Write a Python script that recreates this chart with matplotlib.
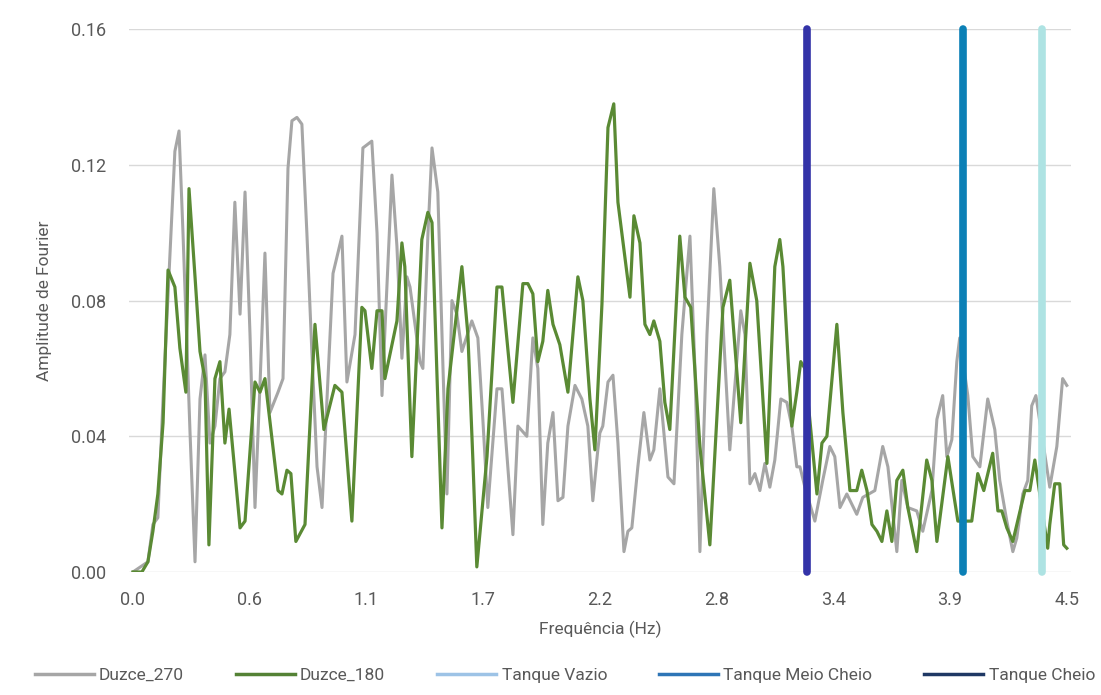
import matplotlib
matplotlib.use('Agg')
import matplotlib.pyplot as plt
from matplotlib.lines import Line2D

plt.rcParams['font.family'] = ['Roboto', 'DejaVu Sans']

# Duzce_180 (green)
f180 = [0.0, 0.043, 0.072, 0.096, 0.120, 0.145, 0.169, 0.202, 0.226, 0.255, 0.270, 0.299, 0.323, 0.347,
        0.366, 0.395, 0.419, 0.443, 0.463, 0.516, 0.540, 0.588, 0.612, 0.636, 0.699, 0.718, 0.742, 0.761,
        0.785, 0.829, 0.877, 0.920, 0.973, 1.007, 1.055, 1.103, 1.118, 1.151, 1.176, 1.200, 1.214, 1.272,
        1.296, 1.310, 1.344, 1.392, 1.421, 1.441, 1.489, 1.518, 1.585, 1.614, 1.638, 1.657, 1.706, 1.754,
        1.778, 1.831, 1.879, 1.903, 1.927, 1.951, 1.975, 1.999, 2.024, 2.057, 2.096, 2.144, 2.168, 2.202,
        2.226, 2.260, 2.289, 2.317, 2.337, 2.395, 2.414, 2.443, 2.467, 2.491, 2.510, 2.539, 2.563, 2.587,
        2.635, 2.660, 2.688, 2.732, 2.780, 2.843, 2.876, 2.929, 2.973, 3.006, 3.055, 3.093, 3.117, 3.132,
        3.175, 3.199, 3.218, 3.238, 3.296, 3.320, 3.344, 3.392, 3.421, 3.455, 3.488, 3.512, 3.537, 3.561,
        3.585, 3.609, 3.633, 3.657, 3.681, 3.710, 3.734, 3.777, 3.825, 3.850, 3.874, 3.927, 3.975, 4.042,
        4.071, 4.100, 4.143, 4.168, 4.187, 4.211, 4.240, 4.298, 4.322, 4.346, 4.408, 4.418, 4.442, 4.466,
        4.485, 4.500]
a180 = [0.0, 0.0, 0.003, 0.012, 0.023, 0.044, 0.089, 0.084, 0.066, 0.053, 0.113, 0.087, 0.065, 0.057,
        0.008, 0.057, 0.062, 0.038, 0.048, 0.013, 0.015, 0.056, 0.053, 0.057, 0.024, 0.023, 0.030, 0.029,
        0.009, 0.014, 0.073, 0.042, 0.055, 0.053, 0.015, 0.078, 0.077, 0.060, 0.077, 0.077, 0.057, 0.074,
        0.097, 0.090, 0.034, 0.098, 0.106, 0.103, 0.013, 0.054, 0.090, 0.070, 0.033, 0.0015, 0.034, 0.084,
        0.084, 0.050, 0.085, 0.085, 0.082, 0.062, 0.068, 0.083, 0.073, 0.067, 0.053, 0.087, 0.080, 0.051,
        0.036, 0.079, 0.131, 0.138, 0.109, 0.081, 0.105, 0.097, 0.073, 0.070, 0.074, 0.068, 0.050, 0.042,
        0.099, 0.081, 0.078, 0.037, 0.008, 0.078, 0.086, 0.044, 0.091, 0.080, 0.032, 0.090, 0.098, 0.090,
        0.043, 0.053, 0.062, 0.060, 0.023, 0.038, 0.040, 0.073, 0.047, 0.024, 0.024, 0.030, 0.024, 0.014,
        0.012, 0.009, 0.018, 0.009, 0.027, 0.030, 0.019, 0.006, 0.033, 0.027, 0.009, 0.034, 0.015, 0.015,
        0.029, 0.024, 0.035, 0.018, 0.018, 0.013, 0.009, 0.024, 0.024, 0.033, 0.007, 0.014, 0.026, 0.026,
        0.008, 0.007]

# Duzce_270 (gray)
f270 = [0.0, 0.072, 0.096, 0.120, 0.145, 0.202, 0.222, 0.241, 0.275, 0.299, 0.323, 0.347, 0.371, 0.395,
        0.419, 0.443, 0.467, 0.491, 0.516, 0.540, 0.564, 0.588, 0.612, 0.636, 0.660, 0.699, 0.723, 0.747,
        0.766, 0.790, 0.814, 0.838, 0.862, 0.887, 0.911, 0.935, 0.964, 1.007, 1.031, 1.070, 1.108, 1.151,
        1.176, 1.200, 1.248, 1.272, 1.296, 1.320, 1.335, 1.383, 1.397, 1.421, 1.441, 1.469, 1.494, 1.513,
        1.537, 1.561, 1.585, 1.633, 1.662, 1.686, 1.710, 1.754, 1.778, 1.831, 1.855, 1.898, 1.927, 1.951,
        1.975, 1.999, 2.024, 2.048, 2.072, 2.096, 2.130, 2.163, 2.192, 2.216, 2.240, 2.250, 2.264, 2.289,
        2.313, 2.337, 2.366, 2.385, 2.404, 2.433, 2.462, 2.491, 2.510, 2.539, 2.578, 2.607, 2.645, 2.684,
        2.708, 2.732, 2.766, 2.799, 2.828, 2.876, 2.929, 2.949, 2.973, 2.997, 3.021, 3.045, 3.069, 3.093,
        3.122, 3.151, 3.175, 3.199, 3.214, 3.238, 3.286, 3.324, 3.358, 3.382, 3.407, 3.440, 3.488, 3.517,
        3.575, 3.613, 3.638, 3.681, 3.705, 3.734, 3.777, 3.806, 3.850, 3.874, 3.902, 3.922, 3.946, 3.970,
        3.984, 4.023, 4.047, 4.081, 4.119, 4.153, 4.177, 4.211, 4.240, 4.259, 4.288, 4.312, 4.331, 4.351,
        4.418, 4.452, 4.480, 4.500]
a270 = [0.0, 0.003, 0.014, 0.016, 0.051, 0.124, 0.130, 0.100, 0.041, 0.003, 0.051, 0.064, 0.038, 0.043,
        0.057, 0.059, 0.070, 0.109, 0.076, 0.112, 0.070, 0.019, 0.055, 0.094, 0.047, 0.053, 0.057, 0.119,
        0.133, 0.134, 0.132, 0.100, 0.065, 0.031, 0.019, 0.051, 0.088, 0.099, 0.056, 0.070, 0.125, 0.127,
        0.100, 0.052, 0.117, 0.096, 0.063, 0.087, 0.084, 0.062, 0.060, 0.099, 0.125, 0.112, 0.060, 0.023,
        0.080, 0.076, 0.065, 0.074, 0.069, 0.045, 0.019, 0.054, 0.054, 0.011, 0.043, 0.040, 0.069, 0.060,
        0.014, 0.038, 0.047, 0.021, 0.022, 0.043, 0.055, 0.051, 0.043, 0.021, 0.036, 0.041, 0.043, 0.056,
        0.058, 0.038, 0.006, 0.012, 0.013, 0.031, 0.047, 0.033, 0.036, 0.054, 0.028, 0.026, 0.070, 0.099,
        0.060, 0.006, 0.070, 0.113, 0.090, 0.036, 0.077, 0.070, 0.026, 0.029, 0.024, 0.032, 0.025, 0.033,
        0.051, 0.050, 0.043, 0.031, 0.031, 0.025, 0.015, 0.027, 0.037, 0.034, 0.019, 0.023, 0.017, 0.022,
        0.024, 0.037, 0.031, 0.006, 0.027, 0.019, 0.018, 0.012, 0.024, 0.045, 0.052, 0.034, 0.039, 0.062,
        0.069, 0.052, 0.034, 0.031, 0.051, 0.042, 0.027, 0.015, 0.006, 0.010, 0.023, 0.027, 0.049, 0.052,
        0.025, 0.037, 0.057, 0.055]

# natural frequencies of the tank (vertical markers)
tank_names = ['Tanque Cheio', 'Tanque Meio Cheio', 'Tanque Vazio']
tank_freqs = [3.25, 4.0, 4.38]
tank_colors = ['#3333a8', '#0b80b6', '#aee3e3']

xtick_labels = ['0.0', '0.6', '1.1', '1.7', '2.2', '2.8', '3.4', '3.9', '4.5']
yticks = [0.0, 0.04, 0.08, 0.12, 0.16]

txt = '#595959'
fig = plt.figure(figsize=(11.01, 6.95), dpi=100)
ax = fig.add_axes([0.117, 0.177, 0.8557, 0.781])

ax.plot(f270, a270, color='#a6a6a6', lw=2.2, solid_joinstyle='round')
ax.plot(f180, a180, color='#5a8a34', lw=2.3, solid_joinstyle='round')
for f, c in zip(tank_freqs, tank_colors):
    ax.plot([f, f], [0, 0.16], color=c, lw=5.5, solid_capstyle='round', zorder=5, clip_on=False)

ax.set_xlim(-0.02, 4.52)
ax.set_ylim(0, 0.16)
ax.set_xticks([i * 4.5 / 8 for i in range(9)])
ax.set_xticklabels(xtick_labels)
ax.set_yticks(yticks)
ax.set_yticklabels(['%.2f' % v for v in yticks])
ax.grid(axis='y', color='#d9d9d9', lw=1)
ax.set_axisbelow(True)
for s in ax.spines.values():
    s.set_visible(False)
ax.tick_params(length=0, labelsize=13, colors=txt)
ax.tick_params(axis='x', pad=14)
ax.tick_params(axis='y', pad=16)
ax.set_xlabel('Frequência (Hz)', fontsize=12.5, color=txt, labelpad=8)
ax.set_ylabel('Amplitude de Fourier', fontsize=12.5, color=txt, labelpad=14)

handles = [Line2D([], [], color='#a6a6a6', lw=2.5),
           Line2D([], [], color='#548235', lw=2.5),
           Line2D([], [], color='#9dc3e6', lw=2.5),
           Line2D([], [], color='#2e75b6', lw=2.5),
           Line2D([], [], color='#1f3864', lw=2.5)]
labels = ['Duzce_270', 'Duzce_180', 'Tanque Vazio', 'Tanque Meio Cheio', 'Tanque Cheio']
fig.legend(handles, labels, loc='lower center', bbox_to_anchor=(0.513, -0.005), ncol=5, frameon=False,
           fontsize=12.5, labelcolor=txt, handlelength=3.4, handletextpad=0.3, columnspacing=3.0)

fig.savefig('out.png', dpi=100, facecolor='white')
